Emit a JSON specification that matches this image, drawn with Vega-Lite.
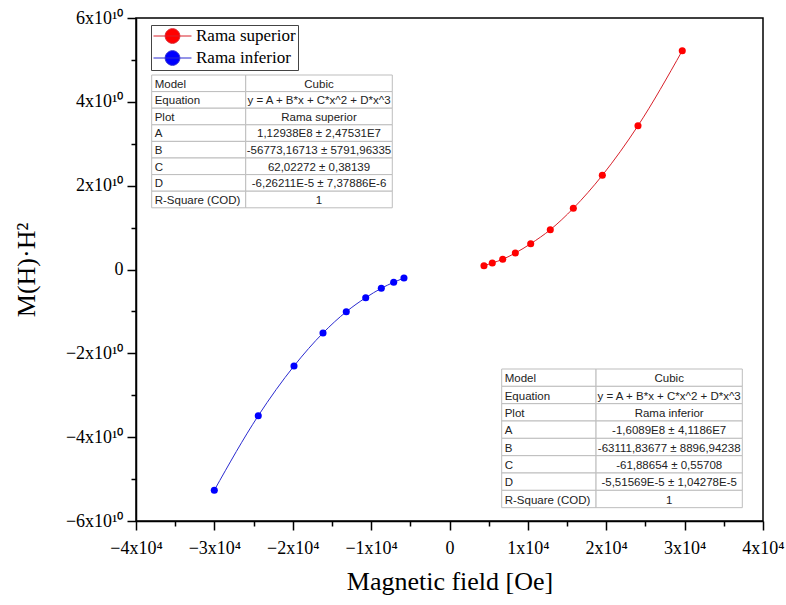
{
  "$schema": "https://vega.github.io/schema/vega-lite/v6.json",
  "width": 627,
  "height": 503,
  "autosize": {"type": "none"},
  "padding": {"left": 136, "top": 18, "right": 23, "bottom": 84},
  "background": "white",
  "config": {
    "view": {"stroke": "black", "strokeWidth": 1.5},
    "axis": {
      "domainColor": "black", "domainWidth": 1.5,
      "tickColor": "black", "tickWidth": 1.5,
      "labelFont": "Liberation Serif", "labelFontSize": 18, "labelColor": "black",
      "titleFont": "Liberation Serif", "titleFontSize": 26, "titleFontWeight": "normal", "titleColor": "black",
      "grid": false, "labelOverlap": false, "labelFlush": false
    },
    "legend": {
      "labelFont": "Liberation Serif", "labelFontSize": 17, "labelColor": "black",
      "strokeColor": "#444", "padding": 2, "rowPadding": 2,
      "symbolType": "M-1,0H3.47M0.375,0A0.86,0.86,0,1,0,2.095,0A0.86,0.86,0,1,0,0.375,0Z",
      "symbolSize": 289, "symbolStrokeWidth": 1, "labelOffset": 25,
      "orient": "none", "legendX": 15, "legendY": 7
    }
  },
  "datasets": {
    "pts": [
      {"s": "Rama superior", "x": 4400, "y": 0.091e10},
      {"s": "Rama superior", "x": 5460, "y": 0.155e10},
      {"s": "Rama superior", "x": 6790, "y": 0.243e10},
      {"s": "Rama superior", "x": 8400, "y": 0.394e10},
      {"s": "Rama superior", "x": 10360, "y": 0.615e10},
      {"s": "Rama superior", "x": 12860, "y": 0.949e10},
      {"s": "Rama superior", "x": 15800, "y": 1.46e10},
      {"s": "Rama superior", "x": 19500, "y": 2.247e10},
      {"s": "Rama superior", "x": 24050, "y": 3.43e10},
      {"s": "Rama superior", "x": 29700, "y": 5.22e10},
      {"s": "Rama inferior", "x": -30010, "y": -5.267e10},
      {"s": "Rama inferior", "x": -24400, "y": -3.488e10},
      {"s": "Rama inferior", "x": -19840, "y": -2.302e10},
      {"s": "Rama inferior", "x": -16140, "y": -1.515e10},
      {"s": "Rama inferior", "x": -13170, "y": -1.007e10},
      {"s": "Rama inferior", "x": -10690, "y": -0.673e10},
      {"s": "Rama inferior", "x": -8700, "y": -0.448e10},
      {"s": "Rama inferior", "x": -7120, "y": -0.305e10},
      {"s": "Rama inferior", "x": -5810, "y": -0.203e10}
    ],
    "tbl": [
      {"t": "sup", "key": "Model", "val": "Cubic", "xl": -38000, "xm": -26000, "xr": -7300, "xc": -16650, "yt": 4.64e10, "yb": 4.244e10},
      {"t": "sup", "key": "Equation", "val": "y = A + B*x + C*x^2 + D*x^3", "xl": -38000, "xm": -26000, "xr": -7300, "xc": -16650, "yt": 4.244e10, "yb": 3.848e10},
      {"t": "sup", "key": "Plot", "val": "Rama superior", "xl": -38000, "xm": -26000, "xr": -7300, "xc": -16650, "yt": 3.848e10, "yb": 3.452e10},
      {"t": "sup", "key": "A", "val": "1,12938E8 ± 2,47531E7", "xl": -38000, "xm": -26000, "xr": -7300, "xc": -16650, "yt": 3.452e10, "yb": 3.056e10},
      {"t": "sup", "key": "B", "val": "-56773,16713 ± 5791,96335", "xl": -38000, "xm": -26000, "xr": -7300, "xc": -16650, "yt": 3.056e10, "yb": 2.66e10},
      {"t": "sup", "key": "C", "val": "62,02272 ± 0,38139", "xl": -38000, "xm": -26000, "xr": -7300, "xc": -16650, "yt": 2.66e10, "yb": 2.264e10},
      {"t": "sup", "key": "D", "val": "-6,26211E-5 ± 7,37886E-6", "xl": -38000, "xm": -26000, "xr": -7300, "xc": -16650, "yt": 2.264e10, "yb": 1.868e10},
      {"t": "sup", "key": "R-Square (COD)", "val": "1", "xl": -38000, "xm": -26000, "xr": -7300, "xc": -16650, "yt": 1.868e10, "yb": 1.472e10},
      {"t": "inf", "key": "Model", "val": "Cubic", "xl": 6660, "xm": 18700, "xr": 37360, "xc": 28030, "yt": -2.374e10, "yb": -2.7875e10},
      {"t": "inf", "key": "Equation", "val": "y = A + B*x + C*x^2 + D*x^3", "xl": 6660, "xm": 18700, "xr": 37360, "xc": 28030, "yt": -2.7875e10, "yb": -3.201e10},
      {"t": "inf", "key": "Plot", "val": "Rama inferior", "xl": 6660, "xm": 18700, "xr": 37360, "xc": 28030, "yt": -3.201e10, "yb": -3.6145e10},
      {"t": "inf", "key": "A", "val": "-1,6089E8 ± 4,1186E7", "xl": 6660, "xm": 18700, "xr": 37360, "xc": 28030, "yt": -3.6145e10, "yb": -4.028e10},
      {"t": "inf", "key": "B", "val": "-63111,83677 ± 8896,94238", "xl": 6660, "xm": 18700, "xr": 37360, "xc": 28030, "yt": -4.028e10, "yb": -4.4415e10},
      {"t": "inf", "key": "C", "val": "-61,88654 ± 0,55708", "xl": 6660, "xm": 18700, "xr": 37360, "xc": 28030, "yt": -4.4415e10, "yb": -4.855e10},
      {"t": "inf", "key": "D", "val": "-5,51569E-5 ± 1,04278E-5", "xl": 6660, "xm": 18700, "xr": 37360, "xc": 28030, "yt": -4.855e10, "yb": -5.2685e10},
      {"t": "inf", "key": "R-Square (COD)", "val": "1", "xl": 6660, "xm": 18700, "xr": 37360, "xc": 28030, "yt": -5.2685e10, "yb": -5.682e10}
    ]
  },
  "encoding": {
    "x": {
      "type": "quantitative",
      "scale": {"domain": [-40000, 40000], "nice": false, "zero": false},
      "axis": {
        "title": "Magnetic field [Oe]",
        "values": [-40000, -35000, -30000, -25000, -20000, -15000, -10000, -5000, 0, 5000, 10000, 15000, 20000, 25000, 30000, 35000, 40000],
        "labelExpr": "datum.value % 10000 !== 0 ? '' : (datum.value === 0 ? '0' : format(datum.value / 10000, 'd') + 'x10⁴')",
        "tickSize": {"condition": {"test": "datum.value % 10000 === 0", "value": 9}, "value": 5},
        "labelPadding": 9,
        "titlePadding": 11
      }
    },
    "y": {
      "type": "quantitative",
      "scale": {"domain": [-60000000000, 60000000000], "nice": false, "zero": false},
      "axis": {
        "title": "M(H)·H²",
        "values": [-60000000000, -50000000000, -40000000000, -30000000000, -20000000000, -10000000000, 0, 10000000000, 20000000000, 30000000000, 40000000000, 50000000000, 60000000000],
        "labelExpr": "datum.value % 20000000000 !== 0 ? '' : (datum.value === 0 ? '0' : format(datum.value / 10000000000, 'd') + 'x10¹⁰')",
        "tickSize": {"condition": {"test": "datum.value % 20000000000 === 0", "value": 9}, "value": 5},
        "labelPadding": 4,
        "titlePadding": 26
      }
    }
  },
  "layer": [
    {
      "mark": {"type": "rule", "color": "#777", "strokeWidth": 1},
      "encoding": {"y": {"datum": 0, "type": "quantitative"}}
    },
    {
      "mark": {"type": "rule", "color": "black", "strokeWidth": 1},
      "encoding": {"x": {"datum": 0, "type": "quantitative"}}
    },
    {
      "data": {"name": "tbl"},
      "mark": {"type": "rect", "fill": "white", "stroke": "#bdbdbd", "strokeWidth": 1},
      "encoding": {
        "x": {"field": "xl", "type": "quantitative"},
        "x2": {"field": "xm"},
        "y": {"field": "yt", "type": "quantitative"},
        "y2": {"field": "yb"}
      }
    },
    {
      "data": {"name": "tbl"},
      "mark": {"type": "rect", "fill": "white", "stroke": "#bdbdbd", "strokeWidth": 1},
      "encoding": {
        "x": {"field": "xm", "type": "quantitative"},
        "x2": {"field": "xr"},
        "y": {"field": "yt", "type": "quantitative"},
        "y2": {"field": "yb"}
      }
    },
    {
      "data": {"name": "tbl"},
      "mark": {"type": "text", "font": "Liberation Sans", "fontSize": 11.5, "color": "#222", "align": "left", "baseline": "bottom", "dx": 3, "dy": -2},
      "encoding": {
        "x": {"field": "xl", "type": "quantitative"},
        "y": {"field": "yb", "type": "quantitative"},
        "text": {"field": "key"}
      }
    },
    {
      "data": {"name": "tbl"},
      "mark": {"type": "text", "font": "Liberation Sans", "fontSize": 11.5, "color": "#222", "align": "center", "baseline": "bottom", "dy": -2},
      "encoding": {
        "x": {"field": "xc", "type": "quantitative"},
        "y": {"field": "yb", "type": "quantitative"},
        "text": {"field": "val"}
      }
    },
    {
      "data": {"name": "pts"},
      "mark": {"type": "line", "strokeWidth": 1, "interpolate": "monotone"},
      "encoding": {
        "x": {"field": "x", "type": "quantitative"},
        "y": {"field": "y", "type": "quantitative"},
        "detail": {"field": "s"},
        "stroke": {"field": "s", "type": "nominal", "scale": {"domain": ["Rama superior", "Rama inferior"], "range": ["#d8202a", "#2a2ad0"]}, "legend": {"title": null, "strokeColor": "#444", "orient": "none", "legendX": 15, "legendY": 7}}
      }
    },
    {
      "data": {"name": "pts"},
      "mark": {"type": "point", "filled": true, "size": 50, "opacity": 1},
      "encoding": {
        "x": {"field": "x", "type": "quantitative"},
        "y": {"field": "y", "type": "quantitative"},
        "fill": {"field": "s", "type": "nominal", "scale": {"domain": ["Rama superior", "Rama inferior"], "range": ["#ff0000", "#0000ff"]}, "legend": {"title": null, "strokeColor": "#444", "orient": "none", "legendX": 15, "legendY": 7}}
      }
    }
  ]
}
